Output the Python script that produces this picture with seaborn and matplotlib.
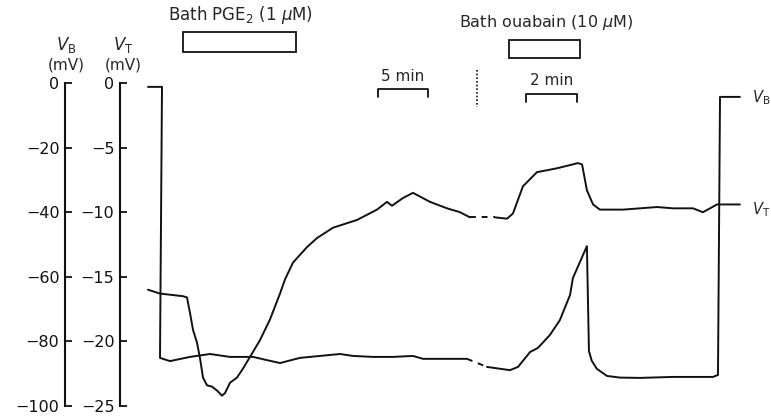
import matplotlib
matplotlib.use("Agg")
import matplotlib.pyplot as plt
from matplotlib.patches import Rectangle
import seaborn as sns
import pandas as pd

sns.set_style("white")
plt.rcParams["font.family"] = ["DejaVu Sans"]
plt.rcParams["mathtext.fontset"] = "dejavusans"

# ---- recorded traces -------------------------------------------------------
# Segment 1: minutes from start of record (slow chart speed, 5 min bar)
vb1_t = [-1.2, 0.2, 0.0, 1.0, 3.0, 5.0, 7.0, 9.3, 10.7, 12.0, 14.0, 18.0,
         19.3, 21.3, 23.3, 25.3, 26.3, 28.0, 30.7]
vb1_mv = [-1.2, -1.2, -85.1, -86.1, -84.8, -83.9, -84.8, -84.8, -85.8, -86.7,
          -85.1, -83.9, -84.5, -84.8, -84.8, -84.5, -85.4, -85.4, -85.4]

vt1_t = [-1.2, 0.0, 2.3, 2.7, 3.0, 3.3, 3.7, 4.0, 4.3, 4.7, 5.2, 5.7, 6.2,
         6.5, 7.0, 7.7, 8.3, 9.0, 10.0, 11.0, 12.0, 12.5, 13.3, 14.7, 15.7,
         17.3, 19.7, 20.7, 21.7, 22.7, 23.2, 24.3, 25.3, 27.0, 28.7, 30.0, 31.0]
vt1_mv = [-16.0, -16.3, -16.5, -16.6, -17.8, -19.1, -20.1, -21.3, -22.8,
          -23.4, -23.5, -23.8, -24.2, -24.0, -23.2, -22.8, -22.1, -21.2,
          -19.9, -18.3, -16.3, -15.2, -13.9, -12.7, -12.0, -11.2, -10.6,
          -10.2, -9.8, -9.2, -9.5, -8.9, -8.5, -9.2, -9.7, -10.0, -10.4]

# Segment 2: minutes after the break (fast chart speed, 2 min bar)
vb2_t = [0.39, 1.29, 1.61, 2.08, 2.39, 2.86, 3.25, 3.65, 3.76, 4.31, 4.39,
         4.50, 4.70, 5.10, 5.60, 6.39, 7.69, 9.25, 9.45, 9.53, 10.31]
vb2_mv = [-87.9, -88.9, -87.9, -83.3, -82.0, -78.0, -73.4, -65.6, -60.4,
          -50.5, -83.0, -86.0, -88.5, -90.7, -91.2, -91.3, -91.0, -91.0,
          -90.4, -4.3, -4.3]

vt2_t = [0.71, 1.18, 1.41, 1.80, 2.35, 3.14, 3.96, 4.12, 4.31, 4.55, 4.82,
         5.73, 6.39, 7.06, 7.69, 8.47, 8.86, 9.14, 9.41, 9.92, 10.31]
vt2_mv = [-10.4, -10.5, -10.1, -8.0, -6.9, -6.6, -6.2, -6.3, -8.3, -9.4,
          -9.8, -9.8, -9.7, -9.6, -9.7, -9.7, -10.0, -9.7, -9.4, -9.4, -9.4]

# drug applications (start, end) in minutes
pge2_period = (2.3, 13.6)        # segment 1
ouabain_period = (1.25, 4.04)    # segment 2

# chart layout of the time axis
BREAK_POS = 31.7    # position of the chart break
SPEED2 = 2.55       # chart units per minute after the break


def seg2(t):
    return [BREAK_POS + v * SPEED2 for v in t]


fig = plt.figure(figsize=(7.71, 4.16), dpi=100)
ax = fig.add_axes([0, 10 / 416, 1, 406 / 416])
ax.set_xlim(-16.0, 61.1)
ax.set_ylim(-100, 25.7)

LW = 1.4
INK = "#111111"


def trace(x, y, **kw):
    df = pd.DataFrame({"x": x, "y": y})
    sns.lineplot(data=df, x="x", y="y", ax=ax, sort=False, estimator=None,
                 color=INK, lw=LW, **kw)


# V_B trace (mV, left scale)
trace(vb1_t, vb1_mv)
trace([vb1_t[-1], seg2(vb2_t)[0]], [vb1_mv[-1], vb2_mv[0]], dashes=(3, 3))
trace(seg2(vb2_t), vb2_mv)

# V_T trace (mV, drawn on the V_B scale: 1 mV V_T = 4 mV V_B)
trace(vt1_t, [v * 4 for v in vt1_mv])
trace([vt1_t[-1], seg2(vt2_t)[0]], [vt1_mv[-1] * 4, vt2_mv[0] * 4], dashes=(3, 3))
trace(seg2(vt2_t), [v * 4 for v in vt2_mv])

# chart break
ax.plot([BREAK_POS, BREAK_POS], [4.0, -7.4], color=INK, lw=1.2, ls=(0, (1, 1.2)))

# drug bars
ax.add_patch(Rectangle((pge2_period[0], 9.6), pge2_period[1] - pge2_period[0],
                       6.2, fill=False, lw=1.3, ec=INK))
o0, o1 = seg2(ouabain_period)
ax.add_patch(Rectangle((o0, 7.7), o1 - o0, 5.6, fill=False, lw=1.3, ec=INK))
ax.text(8.1, 21.0, r"Bath PGE$_2$ (1 $\mu$M)",
        ha="center", va="center", fontsize=12)
ax.text((o0 + o1) / 2 + 0.2, 18.6, r"Bath ouabain (10 $\mu$M)",
        ha="center", va="center", fontsize=11.5)

# time calibration bars
def time_bar(x0, x1, y, label, ty):
    ax.plot([x0, x0, x1, x1], [y - 2.4, y, y, y - 2.4], color=INK, lw=1.3)
    ax.text((x0 + x1) / 2, ty, label, ha="center", va="center", fontsize=11)


time_bar(21.8, 21.8 + 5, -1.9, "5 min", 1.9)
b0, b1 = seg2([1.92, 1.92 + 2])
time_bar(b0, b1, -3.4, "2 min", 0.9)

# trace labels
ax.text(59.2, -4.6, r"$V_\mathrm{B}$", ha="left", va="center", fontsize=10.5)
ax.text(59.2, -39.3, r"$V_\mathrm{T}$", ha="left", va="center", fontsize=10.5)

# V_B axis
ax.set_xticks([])
for s in ("top", "right", "bottom"):
    ax.spines[s].set_visible(False)
ax.spines["left"].set_position(("data", -9.5))
ax.spines["left"].set_bounds(-100, 0)
ax.spines["left"].set_linewidth(1.5)
ax.spines["left"].set_color(INK)
vb_ticks = [0, -20, -40, -60, -80, -100]
ax.set_yticks(vb_ticks)
ax.set_yticklabels(["0"] + ["\u2212" + str(-v) for v in vb_ticks[1:]])
ax.tick_params(axis="y", direction="in", length=5, width=1.3, pad=4,
               labelsize=11.5, colors=INK)
ax.set_xlabel("")
ax.set_ylabel("")

# V_T axis
ax2 = ax.twinx()
ax2.set_ylim(-25, 25.7 / 4)
ax2.yaxis.tick_left()
for s in ("top", "right", "bottom"):
    ax2.spines[s].set_visible(False)
ax2.spines["left"].set_visible(True)
ax2.spines["left"].set_position(("data", -4.0))
ax2.spines["left"].set_bounds(-25, 0)
ax2.spines["left"].set_linewidth(1.5)
ax2.spines["left"].set_color(INK)
vt_ticks = [0, -5, -10, -15, -20, -25]
ax2.set_yticks(vt_ticks)
ax2.set_yticklabels(["0"] + ["\u2212" + str(-v) for v in vt_ticks[1:]])
ax2.tick_params(axis="y", direction="in", length=5, width=1.3, pad=4,
                labelsize=11.5, colors=INK)

# axis headers
for xc, name in ((-9.4, r"$V_\mathrm{B}$"), (-3.7, r"$V_\mathrm{T}$")):
    ax.text(xc, 11.8, name, ha="center", va="center", fontsize=12)
    ax.text(xc, 5.6, "(mV)", ha="center", va="center", fontsize=11)

fig.savefig("out.png", dpi=100, facecolor="white")
